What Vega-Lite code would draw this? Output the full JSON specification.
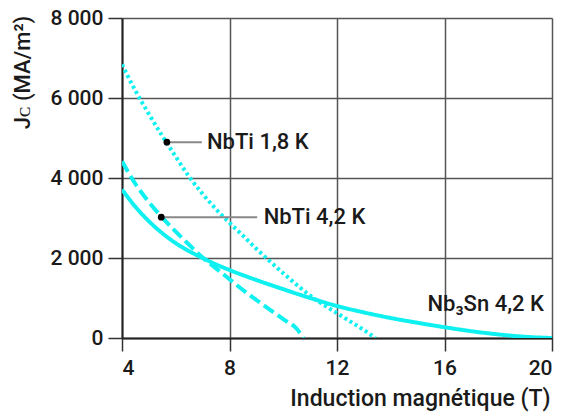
{
  "$schema": "https://vega.github.io/schema/vega-lite/v6.json",
  "autosize": "none",
  "width": 430,
  "height": 320,
  "padding": {"left": 122, "top": 18, "right": 13, "bottom": 75},
  "background": "white",
  "config": {
    "view": {"stroke": null},
    "font": "Roboto",
    "axis": {
      "labelFont": "Roboto",
      "titleFont": "Roboto",
      "labelFontWeight": 500,
      "labelColor": "#1a1a1a",
      "titleColor": "#1a1a1a",
      "titleFontWeight": 500,
      "gridColor": "#555555",
      "gridWidth": 1.5,
      "gridOpacity": 1,
      "tickColor": "#333333",
      "tickWidth": 1.5,
      "domainColor": "#222222",
      "domainWidth": 2
    }
  },
  "datasets": {
    "curves": [
      {"series": "NbTi 1,8 K", "B": 4, "Jc": 6840},
      {"series": "NbTi 1,8 K", "B": 4.5, "Jc": 6180},
      {"series": "NbTi 1,8 K", "B": 5, "Jc": 5600},
      {"series": "NbTi 1,8 K", "B": 5.5, "Jc": 5050},
      {"series": "NbTi 1,8 K", "B": 6, "Jc": 4530},
      {"series": "NbTi 1,8 K", "B": 6.5, "Jc": 4030},
      {"series": "NbTi 1,8 K", "B": 7, "Jc": 3600},
      {"series": "NbTi 1,8 K", "B": 7.5, "Jc": 3220},
      {"series": "NbTi 1,8 K", "B": 8, "Jc": 2880},
      {"series": "NbTi 1,8 K", "B": 8.5, "Jc": 2560},
      {"series": "NbTi 1,8 K", "B": 9, "Jc": 2230},
      {"series": "NbTi 1,8 K", "B": 9.5, "Jc": 1920},
      {"series": "NbTi 1,8 K", "B": 10, "Jc": 1620},
      {"series": "NbTi 1,8 K", "B": 10.5, "Jc": 1330},
      {"series": "NbTi 1,8 K", "B": 11, "Jc": 1060},
      {"series": "NbTi 1,8 K", "B": 11.5, "Jc": 830},
      {"series": "NbTi 1,8 K", "B": 12, "Jc": 620},
      {"series": "NbTi 1,8 K", "B": 12.5, "Jc": 410},
      {"series": "NbTi 1,8 K", "B": 13, "Jc": 200},
      {"series": "NbTi 1,8 K", "B": 13.43, "Jc": 0},
      {"series": "NbTi 4,2 K", "B": 4, "Jc": 4420},
      {"series": "NbTi 4,2 K", "B": 4.5, "Jc": 3850},
      {"series": "NbTi 4,2 K", "B": 5, "Jc": 3400},
      {"series": "NbTi 4,2 K", "B": 5.5, "Jc": 3010},
      {"series": "NbTi 4,2 K", "B": 6, "Jc": 2660},
      {"series": "NbTi 4,2 K", "B": 6.5, "Jc": 2330},
      {"series": "NbTi 4,2 K", "B": 7, "Jc": 2010},
      {"series": "NbTi 4,2 K", "B": 7.5, "Jc": 1740},
      {"series": "NbTi 4,2 K", "B": 8, "Jc": 1470},
      {"series": "NbTi 4,2 K", "B": 8.5, "Jc": 1200},
      {"series": "NbTi 4,2 K", "B": 9, "Jc": 950},
      {"series": "NbTi 4,2 K", "B": 9.5, "Jc": 710},
      {"series": "NbTi 4,2 K", "B": 10, "Jc": 470},
      {"series": "NbTi 4,2 K", "B": 10.5, "Jc": 230},
      {"series": "NbTi 4,2 K", "B": 10.75, "Jc": 0},
      {"series": "Nb3Sn 4,2 K", "B": 4, "Jc": 3712},
      {"series": "Nb3Sn 4,2 K", "B": 4.5, "Jc": 3280},
      {"series": "Nb3Sn 4,2 K", "B": 5, "Jc": 2920},
      {"series": "Nb3Sn 4,2 K", "B": 5.5, "Jc": 2620},
      {"series": "Nb3Sn 4,2 K", "B": 6, "Jc": 2370},
      {"series": "Nb3Sn 4,2 K", "B": 6.5, "Jc": 2170},
      {"series": "Nb3Sn 4,2 K", "B": 7, "Jc": 2000},
      {"series": "Nb3Sn 4,2 K", "B": 7.5, "Jc": 1840},
      {"series": "Nb3Sn 4,2 K", "B": 8, "Jc": 1700},
      {"series": "Nb3Sn 4,2 K", "B": 9, "Jc": 1450},
      {"series": "Nb3Sn 4,2 K", "B": 10, "Jc": 1220},
      {"series": "Nb3Sn 4,2 K", "B": 11, "Jc": 1000},
      {"series": "Nb3Sn 4,2 K", "B": 12, "Jc": 800},
      {"series": "Nb3Sn 4,2 K", "B": 13, "Jc": 640},
      {"series": "Nb3Sn 4,2 K", "B": 14, "Jc": 500},
      {"series": "Nb3Sn 4,2 K", "B": 15, "Jc": 380},
      {"series": "Nb3Sn 4,2 K", "B": 16, "Jc": 270},
      {"series": "Nb3Sn 4,2 K", "B": 17, "Jc": 170},
      {"series": "Nb3Sn 4,2 K", "B": 18, "Jc": 90},
      {"series": "Nb3Sn 4,2 K", "B": 19, "Jc": 30},
      {"series": "Nb3Sn 4,2 K", "B": 20, "Jc": 0}
    ],
    "callouts": [
      {"label": "NbTi 1,8 K", "mx": 5.67, "my": 4895, "lx": 6.97, "tx": 7.16},
      {"label": "NbTi 4,2 K", "mx": 5.46, "my": 3020, "lx": 9.03, "tx": 9.27}
    ],
    "sn": [
      {"label": "Nb₃Sn 4,2 K", "tx": 19.7, "ty": 840}
    ]
  },
  "layer": [
    {
      "data": {"name": "curves"},
      "mark": {"type": "line", "color": "#0ff0f0", "strokeWidth": 4, "interpolate": "monotone", "clip": true, "strokeCap": "butt"},
      "encoding": {
        "x": {
          "field": "B", "type": "quantitative",
          "scale": {"domain": [4, 20], "nice": false, "zero": false},
          "axis": {
            "values": [4, 8, 12, 16, 20],
            "title": "Induction magnétique (T)",
            "titleFontSize": 23,
            "titleAnchor": "end",
            "titleAlign": "right",
            "titleBaseline": "alphabetic",
            "titleY": 67,
            "titleX": 428,
            "labelFontSize": 21,
            "tickSize": 13,
            "labelPadding": 6,
            "grid": true
          }
        },
        "y": {
          "field": "Jc", "type": "quantitative",
          "scale": {"domain": [0, 8000], "nice": false},
          "axis": {
            "values": [0, 2000, 4000, 6000, 8000],
            "labelExpr": "replace(format(datum.value, ','), ',', ' ')",
            "title": "Jᴄ (MA/m²)",
            "titleFontSize": 22,
            "titleAngle": -90,
            "titleAlign": "center",
            "titleBaseline": "middle",
            "titleX": -100,
            "titleY": 54,
            "labelFontSize": 21,
            "tickSize": 14,
            "labelPadding": 5,
            "grid": true
          }
        },
        "detail": {"field": "series"},
        "strokeDash": {
          "field": "series", "type": "nominal",
          "scale": {"domain": ["Nb3Sn 4,2 K", "NbTi 4,2 K", "NbTi 1,8 K"], "range": [[1, 0], [12, 5], [3, 3]]},
          "legend": null
        }
      }
    },
    {
      "data": {"name": "callouts"},
      "mark": {"type": "rule", "color": "#888888", "strokeWidth": 2},
      "encoding": {
        "x": {"field": "mx", "type": "quantitative"},
        "x2": {"field": "lx"},
        "y": {"field": "my", "type": "quantitative"}
      }
    },
    {
      "data": {"name": "callouts"},
      "mark": {"type": "point", "filled": true, "color": "#000000", "size": 45, "opacity": 1},
      "encoding": {
        "x": {"field": "mx", "type": "quantitative"},
        "y": {"field": "my", "type": "quantitative"}
      }
    },
    {
      "data": {"name": "callouts"},
      "mark": {"type": "text", "align": "left", "baseline": "middle", "fontSize": 22, "font": "Roboto", "fontWeight": 500, "color": "#1a1a1a"},
      "encoding": {
        "x": {"field": "tx", "type": "quantitative"},
        "y": {"field": "my", "type": "quantitative"},
        "text": {"field": "label"}
      }
    },
    {
      "data": {"name": "sn"},
      "mark": {"type": "text", "align": "right", "baseline": "middle", "fontSize": 22, "font": "Roboto", "fontWeight": 500, "color": "#1a1a1a"},
      "encoding": {
        "x": {"field": "tx", "type": "quantitative"},
        "y": {"field": "ty", "type": "quantitative"},
        "text": {"field": "label"}
      }
    }
  ]
}
